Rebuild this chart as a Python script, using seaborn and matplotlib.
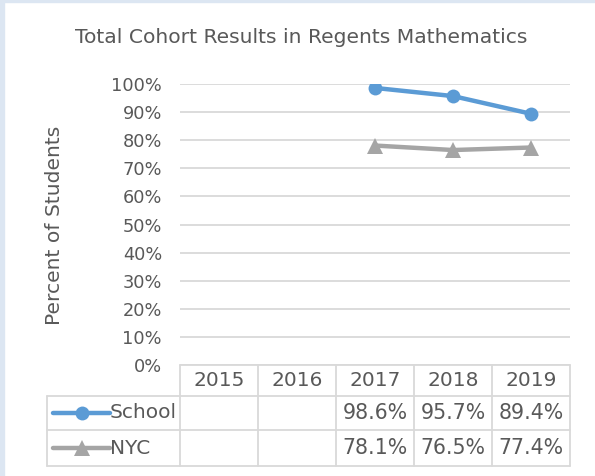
import numpy as np
import pandas as pd
import matplotlib
matplotlib.use("Agg")
import matplotlib.pyplot as plt
import seaborn as sns
from matplotlib.patches import Rectangle
from matplotlib.lines import Line2D

# ---- data ----
years = [2015, 2016, 2017, 2018, 2019]
school = [np.nan, np.nan, 0.986, 0.957, 0.894]
nyc = [np.nan, np.nan, 0.781, 0.765, 0.774]
series_names = ["School", "NYC"]
yticks = [0.0, 0.1, 0.2, 0.3, 0.4, 0.5, 0.6, 0.7, 0.8, 0.9, 1.0]
title = "Total Cohort Results in Regents Mathematics"
ylabel = "Percent of Students"

colors = {"School": "#5B9BD5", "NYC": "#A5A5A5"}
markers = {"School": "o", "NYC": "^"}
msizes = {"School": 10, "NYC": 11.5}
text_color = "#595959"
grid_color = "#D9D9D9"

df = pd.DataFrame({
    "Year": years * 2,
    "Value": school + nyc,
    "Series": ["School"] * len(years) + ["NYC"] * len(years),
})

sns.set_theme(style="white")
plt.rcParams["font.family"] = ["DejaVu Sans"]

W, H = 595, 476
fig = plt.figure(figsize=(W / 100, H / 100), dpi=100)
fig.patch.set_facecolor("white")

# frame strips (left and top)
fig.patches.append(Rectangle((0, 0), 4 / W, 1, transform=fig.transFigure,
                             color="#DCE6F2", zorder=0))
fig.patches.append(Rectangle((0, 1 - 2 / H), 1, 2 / H, transform=fig.transFigure,
                             color="#DCE6F2", zorder=0))

ax_l, ax_r, ax_t, ax_b = 180, 570, 84, 365
ax = fig.add_axes([ax_l / W, 1 - ax_b / H, (ax_r - ax_l) / W, (ax_b - ax_t) / H])

sns.lineplot(data=df, x="Year", y="Value", hue="Series", style="Series",
             hue_order=series_names, style_order=series_names,
             palette=colors, markers=markers, dashes=False,
             linewidth=3.2, markersize=10, markeredgewidth=0,
             legend=False, ax=ax, zorder=3)
# triangle markers a little larger
for ln in ax.get_lines():
    if ln.get_marker() == "^":
        ln.set_markersize(msizes["NYC"])

ax.set_xlim(years[0] - 0.5, years[-1] + 0.5)
ax.set_ylim(0, 1)
ax.set_yticks(yticks)
ax.set_yticklabels([f"{int(round(v * 100))}%" for v in yticks],
                   color=text_color, fontsize=12.8)
ax.tick_params(axis="y", length=0, pad=13)
ax.set_xticks([])
ax.set_xlabel("")
ax.set_ylabel("")
for s in ax.spines.values():
    s.set_visible(False)
ax.yaxis.grid(True, color=grid_color, linewidth=1.3)
ax.set_axisbelow(True)

fig.text(301 / W, 1 - 38 / H, title, ha="center", va="center",
         fontsize=14.6, color=text_color)
fig.text(55 / W, 1 - 225 / H, ylabel, ha="center", va="center",
         rotation=90, fontsize=14.6, color=text_color)

# ---- data table below the axes ----
def axx(px):
    return (px - ax_l) / (ax_r - ax_l)

def axy(py):
    return (ax_b - py) / (ax_b - ax_t)

tkw = dict(transform=ax.transAxes, clip_on=False, color=grid_color,
           linewidth=1.3, zorder=2)
row_edges = [365, 396, 430, 466]
col_w = (ax_r - ax_l) / len(years)
tab_left = 47
# horizontal lines
ax.add_line(Line2D([axx(ax_l), axx(ax_r)], [axy(row_edges[0])] * 2, **tkw))
for py in row_edges[1:]:
    ax.add_line(Line2D([axx(tab_left), axx(ax_r)], [axy(py)] * 2, **tkw))
# vertical lines
for i in range(len(years) + 1):
    px = ax_l + i * col_w
    ax.add_line(Line2D([axx(px)] * 2, [axy(row_edges[0]), axy(row_edges[-1])], **tkw))
ax.add_line(Line2D([axx(tab_left)] * 2, [axy(row_edges[1]), axy(row_edges[-1])], **tkw))

trans = ax.get_xaxis_transform()
hdr_y = axy((row_edges[0] + row_edges[1]) / 2)
for yr in years:
    ax.text(yr, hdr_y, str(yr), transform=trans, ha="center", va="center",
            fontsize=14.5, color=text_color, clip_on=False)

for k, (name, vals) in enumerate(zip(series_names, [school, nyc])):
    cy = axy((row_edges[k + 1] + row_edges[k + 2]) / 2)
    for yr, v in zip(years, vals):
        if not np.isnan(v):
            ax.text(yr, cy, f"{v * 100:.1f}%", transform=trans, ha="center",
                    va="center", fontsize=14.8, color=text_color, clip_on=False)
    # legend key
    ax.add_line(Line2D([axx(53), axx(110)], [cy, cy], transform=ax.transAxes,
                       clip_on=False, color=colors[name], linewidth=3.2,
                       solid_capstyle="round", zorder=3))
    ax.add_line(Line2D([axx(82)], [cy], transform=ax.transAxes, clip_on=False,
                       color=colors[name], marker=markers[name],
                       markersize=msizes[name], markeredgewidth=0,
                       linestyle="none", zorder=4))
    ax.text(axx(110), cy, name, transform=ax.transAxes, ha="left", va="center",
            fontsize=14.5, color=text_color, clip_on=False)

fig.savefig("out.png", dpi=100, facecolor="white")
